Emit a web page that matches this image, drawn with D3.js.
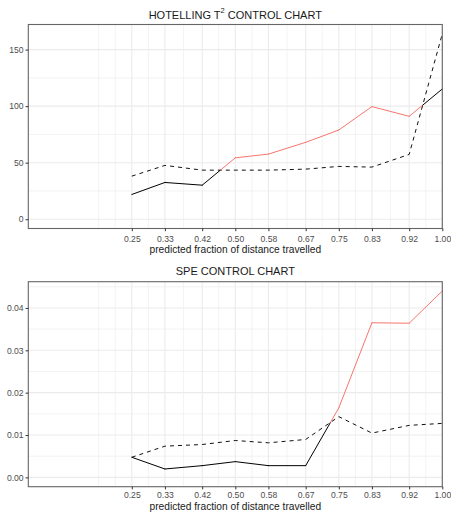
<!DOCTYPE html>
<html>
<head>
<meta charset="utf-8">
<script src="https://cdn.jsdelivr.net/npm/d3@7"></script>
<style>
  html, body { margin: 0; padding: 0; background: #fff; }
  svg { display: block; font-family: "Liberation Sans", Arial, sans-serif; }
</style>
</head>
<body>
<svg id="chart" width="451" height="517"></svg>
<script>
// ---- data ----
const xValues = [0.25, 0.33, 0.42, 0.50, 0.58, 0.67, 0.75, 0.83, 0.92, 1.00];
const xTickLabels = ["0.25", "0.33", "0.42", "0.50", "0.58", "0.67", "0.75", "0.83", "0.92", "1.00"];

const t2Statistic = [21.9, 32.5, 30.1, 54.3, 57.6, 68.0, 78.9, 99.6, 91.0, 115.2];
const t2Limit     = [38.1, 47.6, 43.4, 43.4, 43.4, 44.3, 46.7, 46.1, 57.3, 164.0];
const t2YTicks = [0, 50, 100, 150];

const speStatistic = [0.00475, 0.00198, 0.00277, 0.00372, 0.00277, 0.00277, 0.0164, 0.0365, 0.0364, 0.0440];
const speLimit     = [0.00475, 0.00737, 0.00776, 0.00871, 0.00816, 0.00895, 0.01434, 0.01046, 0.01228, 0.01275];
const speYTicks = [0.00, 0.01, 0.02, 0.03, 0.04];

const titles = ["HOTELLING T", "SPE CONTROL CHART"];
const xAxisTitle = "predicted fraction of distance travelled";

// ---- layout ----
const svg = d3.select("#chart");
const X0 = 28.3, X1 = 442.3;
const x = d3.scaleLinear().domain([0, 1]).range([X0, X1]);

const RED = "#F8766D";
const GRID = "#EBEBEB";

function panel(cfg) {
  const { top, bottom, stat, limit, yTicks, yFmt, titleY, tickLabelY, axisTitleY } = cfg;
  const all = stat.concat(limit, [0]);
  const lo = d3.min(all), hi = d3.max(all);
  const pad = (hi - lo) * 0.05;
  const y = d3.scaleLinear().domain([lo - pad, hi + pad]).range([bottom, top]);
  const g = svg.append("g");

  // minor grid
  const yStep = yTicks[1] - yTicks[0];
  const yMinor = [];
  for (let i = -1; i < yTicks.length; i++) {
    const v = (i < 0 ? yTicks[0] - yStep : yTicks[i]) + yStep / 2;
    if (v > y.domain()[0] && v < y.domain()[1]) yMinor.push(v);
  }
  const xMinor = [];
  const xFirst = xValues[0] - (xValues[1] - xValues[0]);
  const xMaj = [xFirst].concat(xValues);
  for (let i = 0; i < xMaj.length - 1; i++) {
    xMinor.push((xMaj[i] + xMaj[i + 1]) / 2);
  }
  xMinor.push(xFirst);
  g.selectAll(".ymin").data(yMinor).join("line")
    .attr("x1", X0).attr("x2", X1)
    .attr("y1", d => y(d)).attr("y2", d => y(d))
    .attr("stroke", GRID).attr("stroke-width", 0.6);
  g.selectAll(".xmin").data(xMinor).join("line")
    .attr("y1", top).attr("y2", bottom)
    .attr("x1", d => x(d)).attr("x2", d => x(d))
    .attr("stroke", GRID).attr("stroke-width", 0.6);
  // major grid
  g.selectAll(".ymaj").data(yTicks).join("line")
    .attr("x1", X0).attr("x2", X1)
    .attr("y1", d => y(d)).attr("y2", d => y(d))
    .attr("stroke", GRID).attr("stroke-width", 1.1);
  g.selectAll(".xmaj").data(xValues).join("line")
    .attr("y1", top).attr("y2", bottom)
    .attr("x1", d => x(d)).attr("x2", d => x(d))
    .attr("stroke", GRID).attr("stroke-width", 1.1);

  // limit line (dashed)
  const line = d3.line().x(d => x(d[0])).y(d => y(d[1]));
  g.append("path")
    .datum(xValues.map((v, i) => [v, limit[i]]))
    .attr("d", line)
    .attr("fill", "none").attr("stroke", "#111").attr("stroke-width", 1)
    .attr("stroke-dasharray", "4,4");

  // statistic line, coloured red where above the limit
  const segs = [];
  for (let i = 0; i < xValues.length - 1; i++) {
    const xa = xValues[i], xb = xValues[i + 1];
    const da = stat[i] - limit[i], db = stat[i + 1] - limit[i + 1];
    if (da * db < 0) {
      const t = da / (da - db);
      const xc = xa + t * (xb - xa);
      const yc = stat[i] + t * (stat[i + 1] - stat[i]);
      segs.push({ pts: [[xa, stat[i]], [xc, yc]], above: da > 0 });
      segs.push({ pts: [[xc, yc], [xb, stat[i + 1]]], above: db > 0 });
    } else {
      segs.push({ pts: [[xa, stat[i]], [xb, stat[i + 1]]], above: (da + db) > 0 });
    }
  }
  g.selectAll(".seg").data(segs).join("path")
    .attr("d", d => line(d.pts))
    .attr("fill", "none")
    .attr("stroke", d => d.above ? RED : "#000")
    .attr("stroke-width", 1)
    .attr("stroke-linecap", "round");

  // border
  g.append("rect")
    .attr("x", X0).attr("y", top)
    .attr("width", X1 - X0).attr("height", bottom - top)
    .attr("fill", "none").attr("stroke", "#666").attr("stroke-width", 1.1);

  // axes
  const yAxis = d3.axisLeft(y).tickValues(yTicks).tickFormat(yFmt).tickSize(2.7).tickPadding(2);
  const ya = g.append("g").attr("transform", `translate(${X0},0)`).call(yAxis);
  ya.select(".domain").remove();
  ya.selectAll(".tick line").attr("stroke", "#333");
  ya.selectAll(".tick text").attr("fill", "#4D4D4D").style("font-size", "8.6px")
    .style("font-family", "Liberation Sans, Arial, sans-serif");

  const xAxis = d3.axisBottom(x).tickValues(xValues).tickFormat((d, i) => xTickLabels[i]).tickSize(2.7).tickPadding(2);
  const xa = g.append("g").attr("transform", `translate(0,${bottom})`).call(xAxis);
  xa.select(".domain").remove();
  xa.selectAll(".tick line").attr("stroke", "#333");
  xa.selectAll(".tick text").attr("fill", "#4D4D4D").style("font-size", "8.6px")
    .style("font-family", "Liberation Sans, Arial, sans-serif")
    .attr("y", null).attr("dy", null)
    .attr("transform", null);
  xa.selectAll(".tick text").attr("y", tickLabelY - bottom).attr("dominant-baseline", "central");

  // axis title
  g.append("text")
    .attr("x", (X0 + X1) / 2).attr("y", axisTitleY)
    .attr("text-anchor", "middle").attr("dominant-baseline", "central")
    .attr("fill", "#1a1a1a").style("font-size", "10.2px")
    .text(xAxisTitle);

  return { g, titleY };
}

const p1 = panel({ top: 24.5, bottom: 228.5, stat: t2Statistic, limit: t2Limit, yTicks: t2YTicks,
  yFmt: d3.format("d"), titleY: 14, tickLabelY: 238.7, axisTitleY: 249.3 });
const p2 = panel({ top: 281.7, bottom: 486.7, stat: speStatistic, limit: speLimit, yTicks: speYTicks,
  yFmt: d3.format(".2f"), titleY: 270.7, tickLabelY: 495.5, axisTitleY: 506.7 });

// titles
const t1 = svg.append("text")
  .attr("x", (X0 + X1) / 2).attr("y", 14.5)
  .attr("text-anchor", "middle").attr("dominant-baseline", "central")
  .attr("fill", "#1a1a1a").style("font-size", "11px");
t1.append("tspan").text(titles[0]);
t1.append("tspan").attr("dy", -4.5).style("font-size", "7.5px").text("2");
t1.append("tspan").attr("dy", 4.5).text(" CONTROL CHART");

svg.append("text")
  .attr("x", (X0 + X1) / 2).attr("y", 270.7)
  .attr("text-anchor", "middle").attr("dominant-baseline", "central")
  .attr("fill", "#1a1a1a").style("font-size", "11px")
  .text(titles[1]);
</script>
</body>
</html>
